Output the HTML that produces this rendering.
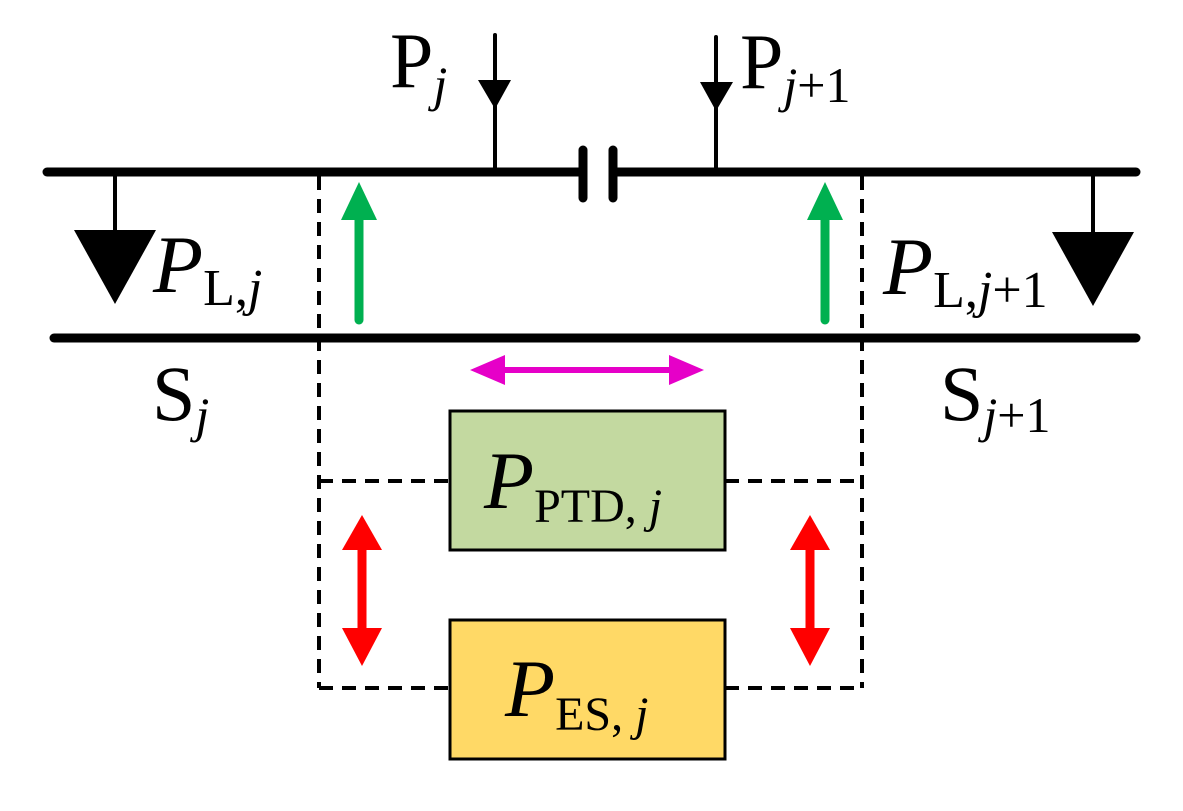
<!DOCTYPE html>
<html><head><meta charset="utf-8"><style>
html,body{margin:0;padding:0;background:#fff;}
svg{display:block}
text,tspan{font-family:"Liberation Serif",serif;fill:#000}
</style></head><body>
<svg width="1183" height="811" viewBox="0 0 1183 811" xmlns="http://www.w3.org/2000/svg" font-family="Liberation Serif, serif">
<g stroke="#000" stroke-linecap="round">
<line x1="47" y1="172" x2="580" y2="172" stroke-width="9"/>
<line x1="617" y1="172" x2="1136" y2="172" stroke-width="9"/>
<line x1="583" y1="150" x2="583" y2="198" stroke-width="9"/>
<line x1="613" y1="150" x2="613" y2="198" stroke-width="9"/>
<line x1="54" y1="338" x2="1136" y2="338" stroke-width="9"/>
<line x1="495" y1="35" x2="495" y2="172" stroke-width="4"/>
<line x1="716" y1="37" x2="716" y2="172" stroke-width="4"/>
<line x1="115" y1="172" x2="115" y2="232" stroke-width="4"/>
<line x1="1093" y1="172" x2="1093" y2="234" stroke-width="4"/>
</g>
<polygon points="478,80 511,80 495,109" fill="#000"/>
<polygon points="700,82 733,82 716,111" fill="#000"/>
<polygon points="74,230 156,230 115,304" fill="#000"/>
<polygon points="1052,232 1134,232 1093,306" fill="#000"/>
<g stroke="#000" stroke-width="4" stroke-dasharray="14,9" fill="none">
<line x1="319" y1="176" x2="319" y2="688"/>
<line x1="862" y1="176" x2="862" y2="688"/>
<line x1="319" y1="481" x2="450" y2="481"/>
<line x1="725" y1="481" x2="862" y2="481"/>
<line x1="319" y1="688" x2="450" y2="688"/>
<line x1="725" y1="688" x2="862" y2="688"/>
</g>
<g fill="#00b050" stroke="#00b050">
<line x1="359" y1="320" x2="359" y2="215" stroke-width="9" stroke-linecap="round"/>
<polygon points="341,220 377,220 359,182" stroke="none"/>
<line x1="825" y1="320" x2="825" y2="215" stroke-width="9" stroke-linecap="round"/>
<polygon points="807,220 843,220 825,182" stroke="none"/>
</g>
<g fill="#e600c8" stroke="#e600c8">
<line x1="500" y1="370" x2="675" y2="370" stroke-width="6"/>
<polygon points="470,370 505,355 505,385" stroke="none"/>
<polygon points="704,370 669,355 669,385" stroke="none"/>
</g>
<g fill="#ff0000" stroke="#ff0000">
<line x1="362" y1="545" x2="362" y2="635" stroke-width="9"/>
<polygon points="362,515 342,550 382,550" stroke="none"/>
<polygon points="362,666 342,628 382,628" stroke="none"/>
<line x1="810" y1="545" x2="810" y2="635" stroke-width="9"/>
<polygon points="810,515 790,550 830,550" stroke="none"/>
<polygon points="810,666 790,628 830,628" stroke="none"/>
</g>
<rect x="450" y="411" width="275" height="139" fill="#c3d9a0" stroke="#000" stroke-width="3"/>
<rect x="450" y="620" width="275" height="139" fill="#ffd966" stroke="#000" stroke-width="3"/>
<text x="390" y="87" font-size="78">P<tspan font-size="50" font-style="italic" dy="14">j</tspan></text>
<text x="740" y="88" font-size="78">P<tspan font-size="50" dy="14"><tspan font-style="italic">j</tspan>+1</tspan></text>
<text x="153" y="292" font-size="82" font-style="italic">P<tspan font-size="52" font-style="normal" dy="13">L,</tspan><tspan font-size="52">j</tspan></text>
<text x="883" y="294" font-size="82" font-style="italic">P<tspan font-size="52" font-style="normal" dy="13">L,</tspan><tspan font-size="52">j</tspan><tspan font-size="52" font-style="normal">+1</tspan></text>
<text x="152" y="420" font-size="78">S<tspan font-size="50" font-style="italic" dy="12">j</tspan></text>
<text x="940" y="420" font-size="78">S<tspan font-size="50" dy="12"><tspan font-style="italic">j</tspan>+1</tspan></text>
<text x="484" y="508" font-size="82" font-style="italic">P<tspan font-size="48" font-style="normal" dy="14">PTD, </tspan><tspan font-size="48">j</tspan></text>
<text x="505" y="716" font-size="82" font-style="italic">P<tspan font-size="48" font-style="normal" dy="14">ES, </tspan><tspan font-size="48">j</tspan></text>
</svg>
</body></html>
